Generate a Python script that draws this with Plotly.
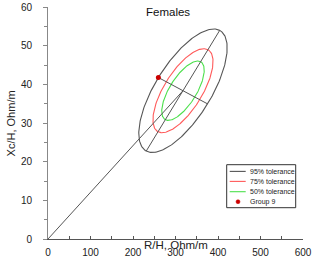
import numpy as np
import plotly.graph_objects as go

# ---- data ----
center = [317.6, 38.35]          # ellipse centre (R/H, Xc/H)
major_vec = [86.4, 15.6]         # 95% semi-axis (major) vector
minor_vec = [-57.9, 3.41]        # 95% semi-axis (minor) vector
tol_names = ["95% tolerance", "75% tolerance", "50% tolerance"]
tol_scale = [1.0, 0.680, 0.481]  # relative size of each tolerance ellipse
tol_colors = ["#555555", "#ff5a5a", "#4ce04c"]
group_name = "Group 9"
group_x = [259.7]
group_y = [41.76]
x_ticks = [0, 100, 200, 300, 400, 500, 600]
y_ticks = [0, 10, 20, 30, 40, 50, 60]

FONT = "Liberation Sans, Arial, sans-serif"
L, R, T, B = 48.3, 303.3, 7.3, 239.3
W, H = R - L, B - T


def px2paper(px, py):
    return (px - L) / W, (B - py) / H


fig = go.Figure()

t = np.linspace(0, 2 * np.pi, 241)
cx, cy = center
for name, s, col in zip(tol_names, tol_scale, tol_colors):
    ex = cx + s * (np.cos(t) * major_vec[0] + np.sin(t) * minor_vec[0])
    ey = cy + s * (np.cos(t) * major_vec[1] + np.sin(t) * minor_vec[1])
    fig.add_trace(go.Scatter(x=ex, y=ey, mode="lines", name=name,
                             line=dict(color=col, width=1.1), showlegend=False,
                             hoverinfo="skip"))

# line from origin to centre
fig.add_trace(go.Scatter(x=[0, cx], y=[0, cy], mode="lines",
                         line=dict(color="#555555", width=1), showlegend=False))
# major axis
fig.add_trace(go.Scatter(x=[cx - major_vec[0], cx + major_vec[0]],
                         y=[cy - major_vec[1], cy + major_vec[1]], mode="lines",
                         line=dict(color="#555555", width=1), showlegend=False))
# minor axis
fig.add_trace(go.Scatter(x=[cx - minor_vec[0], cx + minor_vec[0]],
                         y=[cy - minor_vec[1], cy + minor_vec[1]], mode="lines",
                         line=dict(color="#555555", width=1), showlegend=False))
# group point
fig.add_trace(go.Scatter(x=group_x, y=group_y, mode="markers", name=group_name,
                         marker=dict(color="#cc0000", size=5), showlegend=False))

# ---- custom compact legend ----
shapes = []
annotations = []
bx0, by0 = px2paper(227, 208)
bx1, by1 = px2paper(296, 165)
shapes.append(dict(type="rect", xref="paper", yref="paper", x0=bx0, y0=by0, x1=bx1, y1=by1,
                   line=dict(color="#333333", width=1), fillcolor="white", layer="above"))
rows = [171.7, 181.7, 192.0, 202.0]
for i, (name, col) in enumerate(zip(tol_names, tol_colors)):
    xa, ya = px2paper(230, rows[i])
    xb, _ = px2paper(246, rows[i])
    shapes.append(dict(type="line", xref="paper", yref="paper", x0=xa, y0=ya, x1=xb, y1=ya,
                       line=dict(color=col, width=1.1), layer="above"))
mx0, my0 = px2paper(236.3, rows[3] - 2)
mx1, my1 = px2paper(240.3, rows[3] + 2)
shapes.append(dict(type="circle", xref="paper", yref="paper", x0=mx0, y0=my1, x1=mx1, y1=my0,
                   fillcolor="#cc0000", line=dict(color="#cc0000", width=0.5), layer="above"))
for i, name in enumerate(tol_names + [group_name]):
    xt, yt = px2paper(248, rows[i])
    annotations.append(dict(text=name, xref="paper", yref="paper", x=xt, y=yt,
                            xanchor="left", yanchor="middle", showarrow=False,
                            font=dict(size=7, color="#222222", family=FONT)))

# title and axis titles
xt, yt = px2paper(168, 12.5)
annotations.append(dict(text="Females", xref="paper", yref="paper", x=xt, y=yt,
                        xanchor="center", yanchor="middle", showarrow=False,
                        font=dict(size=11.5, color="#111111", family=FONT)))
xt, yt = px2paper(176, 245.5)
annotations.append(dict(text="R/H, Ohm/m", xref="paper", yref="paper", x=xt, y=yt,
                        xanchor="center", yanchor="middle", showarrow=False,
                        font=dict(size=11.5, color="#222222", family=FONT)))
xt, yt = px2paper(11, 124)
annotations.append(dict(text="Xc/H, Ohm/m", xref="paper", yref="paper", x=xt, y=yt,
                        xanchor="center", yanchor="middle", showarrow=False, textangle=-90,
                        font=dict(size=11, color="#222222", family=FONT)))

fig.update_layout(
    width=314, height=260,
    margin=dict(l=L, r=314 - R, t=T, b=260 - B, autoexpand=False),
    paper_bgcolor="white", plot_bgcolor="white",
    font=dict(family=FONT, size=10, color="#222222"),
    shapes=shapes, annotations=annotations, showlegend=False,
    xaxis=dict(range=[0, 600], tickvals=x_ticks, ticks="inside", ticklen=3,
               tickcolor="#555555", showline=True, linecolor="#555555", linewidth=1,
               showgrid=False, zeroline=False, ticklabelstandoff=4, automargin=False,
               minor=dict(dtick=50, tick0=0, ticks="inside", ticklen=3, tickcolor="#555555"),
               tickfont=dict(size=10, color="#222222")),
    yaxis=dict(range=[0, 60], tickvals=y_ticks, ticks="outside", ticklen=4,
               tickcolor="#888888", showline=True, linecolor="#888888", linewidth=1,
               showgrid=False, zeroline=False, ticklabelstandoff=9, automargin=False,
               minor=dict(dtick=5, tick0=0, ticks="outside", ticklen=3, tickcolor="#888888"),
               tickfont=dict(size=10, color="#222222")),
)

fig.write_html("out.html", config={"displayModeBar": False},
               post_script="document.body.style.margin='0';document.body.style.overflow='hidden';")
